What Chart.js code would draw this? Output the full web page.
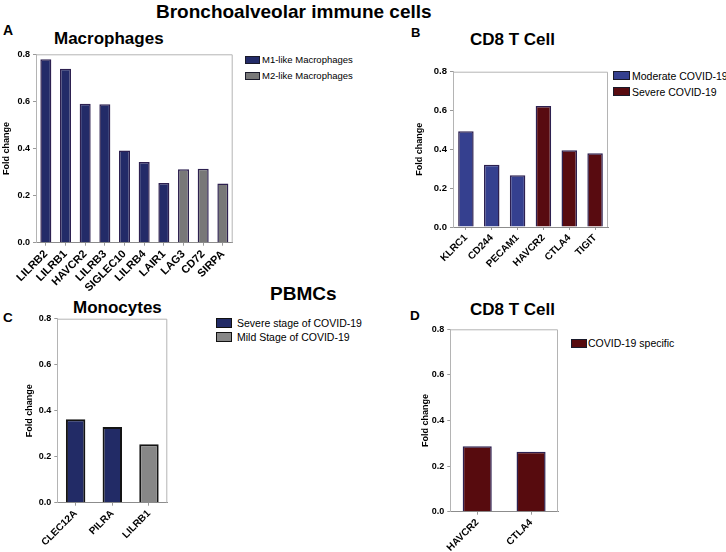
<!DOCTYPE html>
<html>
<head>
<meta charset="utf-8">
<script src="https://cdn.jsdelivr.net/npm/chart.js@4.4.0/dist/chart.umd.min.js"></script>
<style>
  body { margin: 0; width: 726px; height: 552px; position: relative; overflow: hidden; background: #fff;
         font-family: "Liberation Sans", Arial, sans-serif; color: #000; }
  .c { position: absolute; }
  .t { position: absolute; font-weight: bold; line-height: 1; white-space: nowrap; transform: translateY(-50%); }
  .box { position: absolute; box-sizing: border-box; }
  .lt { position: absolute; line-height: 1; white-space: nowrap; transform: translateY(-50%); }
</style>
</head>
<body>
<div class="t" style="left:156px;top:11px;font-size:19px">Bronchoalveolar immune cells</div>
<div class="t" style="left:3px;top:30px;font-size:14px">A</div>
<div class="t" style="left:54px;top:38px;font-size:17px">Macrophages</div>
<div class="t" style="left:411px;top:32px;font-size:13px">B</div>
<div class="t" style="left:470px;top:39px;font-size:17px">CD8 T Cell</div>
<div class="t" style="left:270px;top:293px;font-size:19px">PBMCs</div>
<div class="t" style="left:3px;top:318px;font-size:13.5px">C</div>
<div class="t" style="left:73px;top:307px;font-size:17px">Monocytes</div>
<div class="t" style="left:410px;top:316px;font-size:13.5px">D</div>
<div class="t" style="left:470px;top:309px;font-size:17px">CD8 T Cell</div>

<script>
// bronchoalveolar macrophages
const macroGenes = ['LILRB2', 'LILRB1', 'HAVCR2', 'LILRB3', 'SIGLEC10', 'LILRB4', 'LAIR1', 'LAG3', 'CD72', 'SIRPA'];
const macroFold = [0.779, 0.739, 0.590, 0.588, 0.391, 0.343, 0.253, 0.312, 0.314, 0.251];
const macroGroup = [0, 0, 0, 0, 0, 0, 0, 1, 1, 1];
const macroSeries = ['M1-like Macrophages', 'M2-like Macrophages'];

// bronchoalveolar CD8 T cells
const cd8Genes = ['KLRC1', 'CD244', 'PECAM1', 'HAVCR2', 'CTLA4', 'TIGIT'];
const cd8Fold = [0.493, 0.321, 0.266, 0.623, 0.395, 0.380];
const cd8Group = [0, 0, 0, 1, 1, 1];
const cd8Series = ['Moderate COVID-19', 'Severe COVID-19'];

// PBMC monocytes
const monoGenes = ['CLEC12A', 'PILRA', 'LILRB1'];
const monoFold = [0.363, 0.329, 0.254];
const monoGroup = [0, 0, 1];
const monoSeries = ['Severe stage of COVID-19', 'Mild Stage of COVID-19'];

// PBMC CD8 T cells
const pbmcGenes = ['HAVCR2', 'CTLA4'];
const pbmcFold = [0.287, 0.263];
const pbmcGroup = [0, 0];
const pbmcSeries = ['COVID-19 specific'];

const yTicks = [0, 0.2, 0.4, 0.6, 0.8];

Chart.defaults.font.family = '"Liberation Sans", Arial, sans-serif';
Chart.defaults.color = '#000';

// light grey box on top and right of the plot area
const frame = {
  id: 'frame',
  beforeDatasetsDraw(chart) {
    const { ctx, chartArea: a } = chart;
    ctx.save();
    ctx.strokeStyle = '#b4b4b4';
    ctx.lineWidth = 1;
    ctx.beginPath();
    ctx.moveTo(a.left, a.top + 0.5);
    ctx.lineTo(a.right - 0.5, a.top + 0.5);
    ctx.lineTo(a.right - 0.5, a.bottom);
    ctx.stroke();
    ctx.restore();
  }
};

function panel(cfg) {
  const [bx, by, bw, bh] = cfg.box;
  const [l, t, r, b] = cfg.area;
  const cv = document.createElement('canvas');
  cv.width = bw; cv.height = bh;
  cv.className = 'c';
  cv.style.left = bx + 'px';
  cv.style.top = by + 'px';
  document.body.appendChild(cv);
  const yW = l - bx, xH = by + bh - b;

  return new Chart(cv, {
    type: 'bar',
    data: {
      labels: cfg.labels,
      datasets: [{
        data: cfg.values,
        backgroundColor: cfg.groups.map(g => cfg.colors[g]),
        borderColor: cfg.edge,
        borderWidth: cfg.edgeW,
        categoryPercentage: 1,
        barPercentage: cfg.bar
      }]
    },
    options: {
      responsive: false,
      animation: false,
      layout: { padding: { left: 0, top: t - by, right: bx + bw - r, bottom: 0 } },
      plugins: { legend: { display: false }, tooltip: { enabled: false } },
      scales: {
        x: {
          grid: { offset: false, drawOnChartArea: false, tickLength: 3, color: '#999' },
          border: { color: '#8c8c8c' },
          ticks: { autoSkip: false, minRotation: 45, maxRotation: 45, padding: 2,
                   font: { size: cfg.xFont, weight: 'bold' } },
          afterFit: s => { s.height = xH; }
        },
        y: {
          min: 0, max: 0.8,
          grid: { drawOnChartArea: false, tickLength: 3, color: '#999' },
          border: { color: '#b4b4b4' },
          afterBuildTicks: s => { s.ticks = yTicks.map(v => ({ value: v })); },
          ticks: { padding: 3, font: { size: cfg.yFont, weight: 'bold' }, callback: v => v.toFixed(1) },
          title: { display: true, text: 'Fold change', padding: { top: 1.6, bottom: 0 },
                   font: { size: 9, weight: 'bold' } },
          afterFit: s => { s.width = yW; }
        }
      }
    },
    plugins: [frame]
  });
}

function legend(cfg) {
  cfg.names.forEach((name, i) => {
    const y = cfg.y + i * cfg.step;
    const box = document.createElement('div');
    box.className = 'box';
    Object.assign(box.style, {
      left: cfg.x + 'px', top: y + 'px', width: cfg.w + 'px', height: cfg.h + 'px',
      background: cfg.colors[i], border: cfg.edgeW + 'px solid ' + cfg.edge
    });
    document.body.appendChild(box);
    const txt = document.createElement('div');
    txt.className = 'lt';
    txt.textContent = name;
    Object.assign(txt.style, { left: cfg.tx + 'px', top: (y + cfg.h / 2) + 'px', fontSize: cfg.font + 'px' });
    document.body.appendChild(txt);
  });
}

const macroColors = ['#232b68', '#787878'];
const cd8Colors = ['#35408f', '#580b10'];
const monoColors = ['#222b66', '#878787'];
const pbmcColors = ['#570b0e'];

panel({ box: [0, 44, 236, 250], area: [36, 54.3, 232.7, 242.7], labels: macroGenes, values: macroFold,
        groups: macroGroup, colors: macroColors, edge: '#2d2050', edgeW: 1.5, bar: 0.56, xFont: 11, yFont: 9 });
panel({ box: [413, 62, 199, 240], area: [453, 71.7, 608, 227], labels: cd8Genes, values: cd8Fold,
        groups: cd8Group, colors: cd8Colors, edge: '#2d2050', edgeW: 1.5, bar: 0.6, xFont: 10, yFont: 9.5 });
panel({ box: [23, 309, 148, 243], area: [57.3, 318.7, 167.3, 502.7], labels: monoGenes, values: monoFold,
        groups: monoGroup, colors: monoColors, edge: '#141414', edgeW: 2, bar: 0.53, xFont: 10, yFont: 9 });
panel({ box: [419, 319, 143, 233], area: [450.3, 329.3, 558, 511.7], labels: pbmcGenes, values: pbmcFold,
        groups: pbmcGroup, colors: pbmcColors, edge: '#2d2050', edgeW: 1.5, bar: 0.54, xFont: 10, yFont: 9 });

legend({ x: 245, y: 56, step: 15.5, w: 15, h: 8, tx: 262, font: 9.5, names: macroSeries, colors: macroColors, edge: '#1a1a2a', edgeW: 1 });
legend({ x: 613, y: 71, step: 16, w: 17, h: 9, tx: 632, font: 10.5, names: cd8Series, colors: cd8Colors, edge: '#1a1a2a', edgeW: 1 });
legend({ x: 216, y: 318, step: 14, w: 16, h: 9.5, tx: 237, font: 10.5, names: monoSeries, colors: monoColors, edge: '#111', edgeW: 1.5 });
legend({ x: 571, y: 339, step: 16, w: 16, h: 8.5, tx: 588, font: 10.5, names: pbmcSeries, colors: pbmcColors, edge: '#1a1a2a', edgeW: 1 });
</script>
</body>
</html>
